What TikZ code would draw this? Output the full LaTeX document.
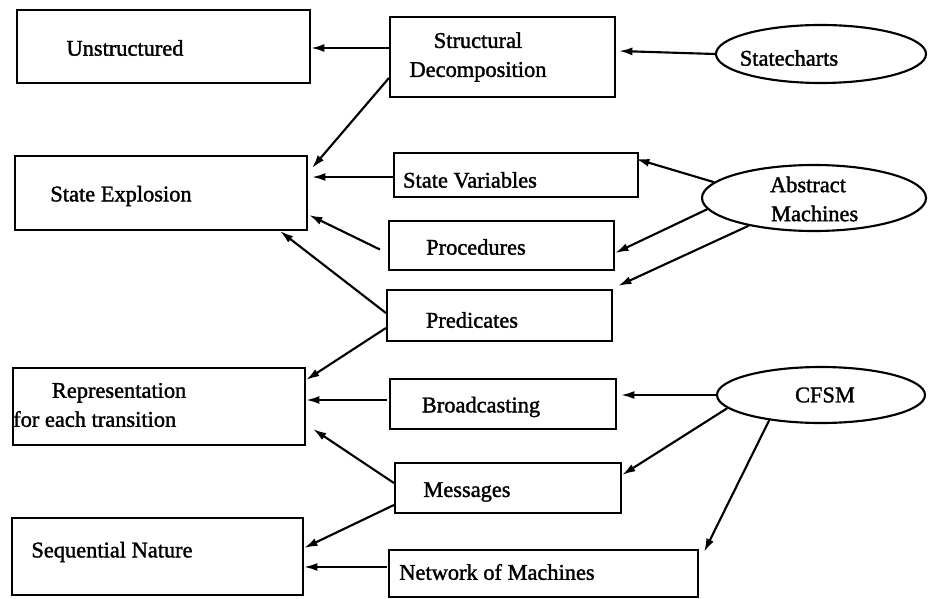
\documentclass[tikz,border=0pt]{standalone}
\usepackage{fontspec}
\setmainfont{Liberation Serif}
\newfontfamily\heavyserif[FakeBold=1.5]{Liberation Serif}
\usetikzlibrary{arrows.meta,fit,shapes.geometric,calc}
\tikzset{
  box/.style={draw, line width=1.6pt, inner sep=0pt, rectangle},
  oval/.style={draw, line width=1.6pt, ellipse, inner sep=0pt},
  lbl/.style={inner sep=0pt, font=\heavyserif\fontsize{16.8pt}{21.75pt}\selectfont},
  link/.style={line width=1.6pt, -{Latex[length=10pt,width=6pt]}}
}
\begin{document}
\begin{tikzpicture}[x=0.75pt,y=-0.75pt]
\useasboundingbox (0,0) rectangle (928,599);

% left column: problems
\node[box, fit={(17,10) (310,83)}] (un) {};
\node[box, fit={(15,156) (307,230)}] (se) {};
\node[box, fit={(13,368) (305,445)}] (rp) {};
\node[box, fit={(12,518) (303,595)}] (sn) {};

% middle column: mechanisms
\node[box, fit={(390,17) (615,97)}] (sd) {};
\node[box, fit={(394,153) (638,197)}] (sv) {};
\node[box, fit={(389,221) (614,270)}] (pr) {};
\node[box, fit={(387,290) (612,341)}] (pd) {};
\node[box, fit={(390,379) (616,429)}] (bc) {};
\node[box, fit={(395,463) (621,513)}] (ms) {};
\node[box, fit={(389,550) (698,597)}] (nw) {};

% right column: formalisms
\node[oval, minimum width=157.5pt, minimum height=43.5pt] (sc) at (821,54) {};
\node[oval, minimum width=168pt, minimum height=49.5pt] (am) at (814,198) {};
\node[oval, minimum width=156pt, minimum height=42pt] (cf) at (821,395) {};

% labels
\node[lbl] (tun) at (125,48) {Unstructured};
\node[lbl] (tse) at (121,196) {State Explosion};
\node[lbl, align=left, anchor=west] (trp) at (13,405) {\hspace*{29pt}Representation\\for each transition};
\node[lbl] (tsn) at (112,552) {Sequential Nature};
\node[lbl, align=center] (tsd) at (478,57) {Structural\\Decomposition};
\node[lbl] (tsv) at (470,180) {State Variables};
\node[lbl] (tpr) at (476,247) {Procedures};
\node[lbl] (tpd) at (472,320) {Predicates};
\node[lbl] (tbc) at (481,407) {Broadcasting};
\node[lbl] (tms) at (467,492) {Messages};
\node[lbl] (tnw) at (497,572) {Network of Machines};
\node[lbl] (tsc) at (789,58) {Statecharts};
\node[lbl, align=center] (tam) at (808,199) {Abstract\\\hspace*{10pt}Machines};
\node[lbl] (tcf) at (825,395) {CFSM};

% connectors
\draw[link] (sd.west |- 0,48) -- (un.east |- 0,48);
\draw[link] (sc.west) -- ($(sd.east |- 0,51)+(3,0)$);
\draw[link] (sd.west |- 0,78) -- ($(se.east |- 0,168)+(4,0)$);
\draw[link] (sv.west |- 0,177) -- ($(se.east |- 0,177)+(4,0)$);
\draw[link] ($(pr.west)+(-8,4)$) -- ($(se.east |- 0,215)+(1,0)$);
\draw[link] (pd.west |- 0,313) -- (280,0 |- se.south);
\draw[link] (pd.west |- 0,328) -- (rp.east |- 0,380);
\draw[link] (am.171) -- ($(sv.north east)+(-3,7)$);
\draw[link] (am.186) -- (pr.east |- 0,253);
\draw[link] (am.203) -- ($(pd.north east)+(5,-3)$);
\draw[link] ($(bc.west |- 0,400)+(-2,0)$) -- (rp.east |- 0,400);
\draw[link] (cf.west) -- ($(bc.east |- 0,395)+(4,0)$);
\draw[link] (ms.west |- 0,483) -- ($(rp.south east)+(7,-17)$);
\draw[link] (ms.west |- 0,505) -- (sn.east |- 0,548);
\draw[link] (cf.188) -- (ms.east |- 0,475);
\draw[link] (cf.206) -- ($(nw.north east)+(5,3)$);
\draw[link] ($(nw.west |- 0,567)+(-1,0)$) -- (sn.east |- 0,567);
\end{tikzpicture}
\end{document}
